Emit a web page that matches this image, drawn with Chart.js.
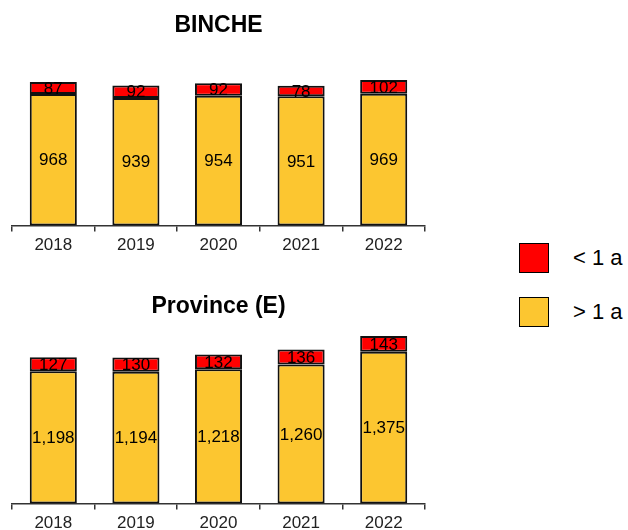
<!DOCTYPE html>
<html>
<head>
<meta charset="utf-8">
<script src="https://cdn.jsdelivr.net/npm/chart.js@4"></script>
<style>
  html, body { margin:0; padding:0; background:#fff; }
  body { width:628px; height:530px; position:relative; overflow:hidden; font-family:"Liberation Sans", Arial, sans-serif; }
  .wrap { position:absolute; left:0; width:440px; height:260px; }
  #w1 { top:0; }
  #w2 { top:278px; }
  .leg { position:absolute; left:519px; width:30px; height:30px; border:1px solid #000; box-sizing:border-box; }
  .legt { position:absolute; left:573px; font-size:22px; color:#000; line-height:24px; white-space:nowrap; }
</style>
</head>
<body>
<div class="wrap" id="w1"><canvas id="c1" width="440" height="260"></canvas></div>
<div class="wrap" id="w2"><canvas id="c2" width="440" height="260"></canvas></div>
<div class="leg" style="top:243px;background:#FF0000"></div>
<div class="legt" style="top:246px">&lt; 1 a</div>
<div class="leg" style="top:297px;background:#FCC630"></div>
<div class="legt" style="top:300px">&gt; 1 a</div>
<script>
const years = ["2018", "2019", "2020", "2021", "2022"];
const seriesNames = ["> 1 a", "< 1 a"];
const bincheOver = [968, 939, 954, 951, 969];
const bincheUnder = [87, 92, 92, 78, 102];
const provOver = [1198, 1194, 1218, 1260, 1375];
const provUnder = [127, 130, 132, 136, 143];

const FONT = '"Liberation Sans", Arial, sans-serif';

const labelPlugin = {
  id: 'segLabels',
  afterDatasetsDraw(chart) {
    const ctx = chart.ctx;
    ctx.save();
    ctx.font = '17px ' + FONT;
    ctx.fillStyle = '#000';
    ctx.textAlign = 'center';
    ctx.textBaseline = 'middle';
    chart.data.datasets.forEach((ds, i) => {
      const meta = chart.getDatasetMeta(i);
      meta.data.forEach((bar, j) => {
        const p = bar.getProps(['x', 'y', 'base'], true);
        const yc = (p.y + p.base) / 2;
        ctx.fillText(ds.data[j].toLocaleString('en-US'), p.x, yc + 1);
      });
    });
    ctx.restore();
  }
};

function makeChart(id, title, over, under, ymax, padTop, padBottom) {
  return new Chart(document.getElementById(id), {
    type: 'bar',
    data: {
      labels: years,
      datasets: [
        { label: seriesNames[0], data: over, backgroundColor: '#FCC630', borderColor: '#111', borderWidth: 2, borderSkipped: false },
        { label: seriesNames[1], data: under, backgroundColor: '#FF0000', borderColor: '#111', borderWidth: 2, borderSkipped: false }
      ]
    },
    options: {
      responsive: false,
      animation: false,
      layout: { padding: { left: 12, right: 15, top: 0, bottom: 0 } },
      datasets: { bar: { categoryPercentage: 1, barPercentage: 0.57 } },
      plugins: {
        legend: { display: false },
        tooltip: { enabled: false },
        title: {
          display: true, text: title, color: '#000',
          font: { family: FONT, size: 23, weight: 'bold' },
          padding: { top: padTop, bottom: padBottom }
        }
      },
      scales: {
        x: {
          stacked: true,
          grid: { display: true, drawOnChartArea: false, drawTicks: true, tickLength: 6, color: '#333', lineWidth: 1.5, offset: true },
          border: { display: true, color: '#333', width: 1.5 },
          ticks: { color: '#222', padding: 4, font: { family: FONT, size: 17 } }
        },
        y: { stacked: true, display: false, min: 0, max: ymax }
      }
    },
    plugins: [labelPlugin]
  });
}

makeChart('c1', 'BINCHE', bincheOver, bincheUnder, 1100, 12.2, 36.2);
makeChart('c2', 'Province (E)', provOver, provUnder, 1600, 15.2, 6.2);
</script>
</body>
</html>
